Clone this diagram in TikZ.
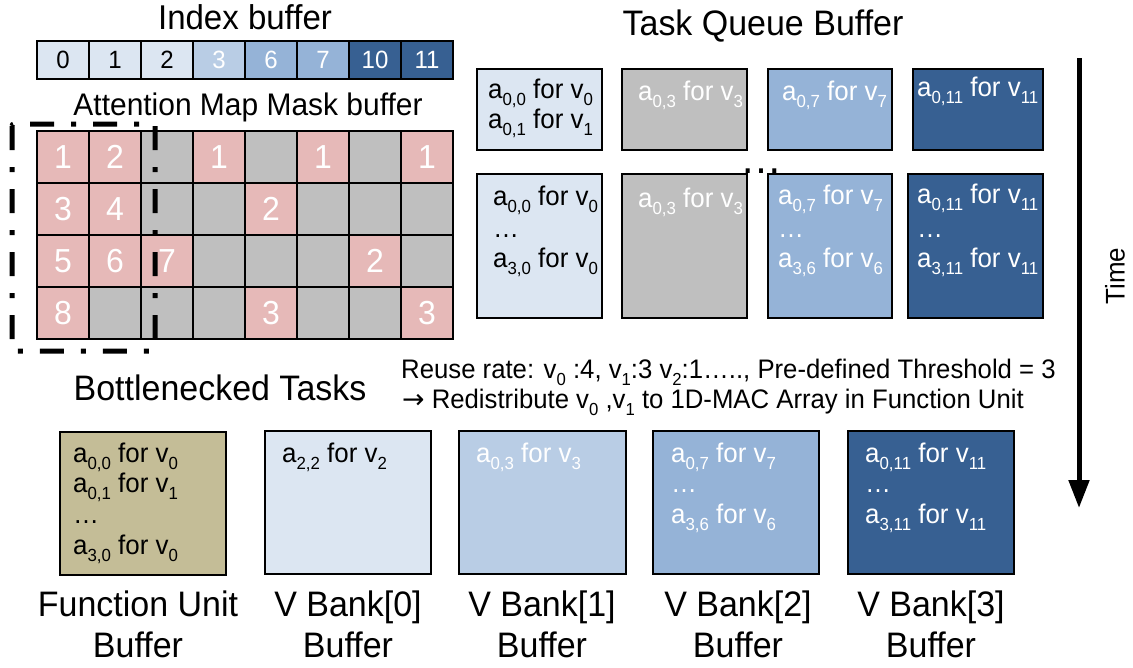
\documentclass[tikz,border=0pt]{standalone}
\usepackage{fontspec}
\setmainfont{Liberation Sans}[FakeStretch=0.96]
\newfontfamily\arrowfont{DejaVu Sans}
\usepackage{graphicx}
\usetikzlibrary{arrows.meta}

\definecolor{paleblue}{HTML}{DCE6F2}
\definecolor{softblue}{HTML}{B9CDE5}
\definecolor{midblue}{HTML}{95B3D7}
\definecolor{deepblue}{HTML}{376092}
\definecolor{maskpink}{HTML}{E6B9B8}
\definecolor{maskgray}{HTML}{BFBFBF}
\definecolor{fuTan}{HTML}{C4BD97}

% subscript in the running sans font
\newcommand{\sbs}[1]{\raisebox{-0.27em}{\scalebox{0.65}{#1}}}
% one task entry: a_{i,j} for v_k
\newcommand{\tsk}[2]{a\sbs{#1} for v\sbs{#2}}
\newcommand{\fs}[1]{\fontsize{#1}{#1}\selectfont}

\begin{document}
\begin{tikzpicture}[x=1pt,y=-1pt,
  idxcell/.style={draw, line width=1.8pt, minimum width=52pt, minimum height=38pt, inner sep=0pt, outer sep=0pt, font=\fs{25}},
  maskcell/.style={draw, line width=1.8pt, minimum width=52pt, minimum height=52pt, inner sep=0pt, outer sep=0pt, font=\fs{33.3}, text=white},
  qbox/.style={draw, line width=2.2pt, anchor=north west, inner sep=0pt, outer sep=0pt},
  tline/.style={anchor=base west, inner sep=0pt, font=\fs{27}},
  heading/.style={anchor=base, inner sep=0pt, font=\fs{35.4}},
  maskframe/.style={line width=5pt, dash pattern=on 24pt off 17pt on 5pt off 17pt, rounded corners=2pt},
  timearrow/.style={line width=5pt, -{Triangle[length=28pt,width=20pt]}}
]
\useasboundingbox (0,0) rectangle (1133,667);
\fill[white] (0,0) rectangle (1133,667);

% ---- Index buffer ----
\node[heading, font=\fs{34.4}] (idxtitle) at (245,29) {Index buffer};
\foreach \v/\f/\t [count=\i from 0] in {0/paleblue/black,1/paleblue/black,2/paleblue/black,3/softblue/white,6/midblue/white,7/midblue/white,10/deepblue/white,11/deepblue/white}
  \node[idxcell, fill=\f, text=\t] (idx\i) at ({63+52*\i},60) {\v};

% ---- Attention map mask ----
\node[heading, font=\fs{31.2}] (masktitle) at (248,115) {Attention Map Mask buffer};
\foreach \c in {0,...,7}{
  \foreach \r in {0,...,3}{
    \node[maskcell, fill=maskgray] (g\c\r) at ({63+52*\c},{157+52*\r}) {};
  }
}
\foreach \c/\r/\n in {0/0/1,1/0/2,3/0/1,5/0/1,7/0/1,0/1/3,1/1/4,4/1/2,0/2/5,1/2/6,2/2/7,6/2/2,0/3/8,4/3/3,7/3/3}
  \node[maskcell, fill=maskpink] (p\c\r) at ({63+52*\c},{157+52*\r}) {\n};
\draw[maskframe] (12,124) rectangle (155,351);

% ---- Task queue buffer ----
\node[heading] (qtitle) at (763,35) {Task Queue Buffer};
\node[anchor=base, inner sep=0pt, font=\fs{43.7}] (qgap) at (761,173) {…};

\node[qbox, fill=paleblue, minimum width=125pt, minimum height=81pt] (qa1) at (477,69) {};
\node[qbox, fill=maskgray, minimum width=125pt, minimum height=81pt] (qa2) at (622,69) {};
\node[qbox, fill=midblue,  minimum width=124pt, minimum height=81pt] (qa3) at (768,69) {};
\node[qbox, fill=deepblue, minimum width=130pt, minimum height=81pt] (qa4) at (913,69) {};

\node[qbox, fill=paleblue, minimum width=125pt, minimum height=144pt] (qb1) at (477,174) {};
\node[qbox, fill=maskgray, minimum width=125pt, minimum height=144pt] (qb2) at (622,174) {};
\node[qbox, fill=midblue,  minimum width=124pt, minimum height=144pt] (qb3) at (768,174) {};
\node[qbox, fill=deepblue, minimum width=135pt, minimum height=144pt] (qb4) at (908,174) {};

\node[tline] (qa1l1) at (488,98)  {\tsk{0,0}{0}};
\node[tline] (qa1l2) at (488,128) {\tsk{0,1}{1}};
\node[tline, text=white] (qa2l1) at (638,100) {\tsk{0,3}{3}};
\node[tline, text=white] (qa3l1) at (782,100) {\tsk{0,7}{7}};
\node[tline, text=white] (qa4l1) at (917,96)  {\tsk{0,11}{11}};

\node[tline] (qb1l1) at (493,205) {\tsk{0,0}{0}};
\node[tline] (qb1l2) at (493,237) {…};
\node[tline] (qb1l3) at (493,267) {\tsk{3,0}{0}};
\node[tline, text=white] (qb2l1) at (638,207) {\tsk{0,3}{3}};
\node[tline, text=white] (qb3l1) at (778,204) {\tsk{0,7}{7}};
\node[tline, text=white] (qb3l2) at (778,237) {…};
\node[tline, text=white] (qb3l3) at (778,267) {\tsk{3,6}{6}};
\node[tline, text=white] (qb4l1) at (917,203) {\tsk{0,11}{11}};
\node[tline, text=white] (qb4l2) at (917,237) {…};
\node[tline, text=white] (qb4l3) at (917,267) {\tsk{3,11}{11}};

% ---- Reuse note ----
\node[tline, font=\fs{26.8}] (note1) at (401,378) {Reuse rate: v\sbs{0} :4, v\sbs{1}:3 v\sbs{2}:1…..,  Pre-defined Threshold = 3};
\node[tline, font=\fs{26.8}] (note2) at (402,408) {{\arrowfont →} Redistribute v\sbs{0} ,v\sbs{1} to 1D-MAC Array in Function Unit};

% ---- Bottlenecked tasks ----
\node[heading] (btitle) at (220,400) {Bottlenecked Tasks};

\node[qbox, fill=fuTan,    minimum width=166pt, minimum height=143pt] (fu)  at (60,432)  {};
\node[qbox, fill=paleblue, minimum width=166pt, minimum height=143pt] (vb0) at (265,431) {};
\node[qbox, fill=softblue, minimum width=167pt, minimum height=143pt] (vb1) at (459,431) {};
\node[qbox, fill=midblue,  minimum width=166pt, minimum height=143pt] (vb2) at (653,431) {};
\node[qbox, fill=deepblue, minimum width=166pt, minimum height=143pt] (vb3) at (848,431) {};

\node[tline] (ful1) at (73,462) {\tsk{0,0}{0}};
\node[tline] (ful2) at (73,492) {\tsk{0,1}{1}};
\node[tline] (ful3) at (73,523) {…};
\node[tline] (ful4) at (73,554) {\tsk{3,0}{0}};
\node[tline] (vb0l1) at (282,462) {\tsk{2,2}{2}};
\node[tline, text=white] (vb1l1) at (476,462) {\tsk{0,3}{3}};
\node[tline, text=white] (vb2l1) at (671,462) {\tsk{0,7}{7}};
\node[tline, text=white] (vb2l2) at (671,492) {…};
\node[tline, text=white] (vb2l3) at (671,523) {\tsk{3,6}{6}};
\node[tline, text=white] (vb3l1) at (865,462) {\tsk{0,11}{11}};
\node[tline, text=white] (vb3l2) at (865,492) {…};
\node[tline, text=white] (vb3l3) at (865,523) {\tsk{3,11}{11}};

\node[heading] (funame)  at (138,616) {Function Unit};
\node[heading] (fubuf)   at (138,657) {Buffer};
\node[heading] (vb0name) at (348,616) {V Bank[0]};
\node[heading] (vb0buf)  at (348,657) {Buffer};
\node[heading] (vb1name) at (542,616) {V Bank[1]};
\node[heading] (vb1buf)  at (542,657) {Buffer};
\node[heading] (vb2name) at (738,616) {V Bank[2]};
\node[heading] (vb2buf)  at (738,657) {Buffer};
\node[heading] (vb3name) at (931,616) {V Bank[3]};
\node[heading] (vb3buf)  at (931,657) {Buffer};

% ---- Time axis ----
\coordinate (tstart) at (1079,58);
\coordinate (tend) at (1079,508);
\draw[timearrow] (tstart) -- (tend);
\node[rotate=90, inner sep=0pt, font=\fs{27}] (timelabel) at (1115,276) {Time};
\end{tikzpicture}
\end{document}
